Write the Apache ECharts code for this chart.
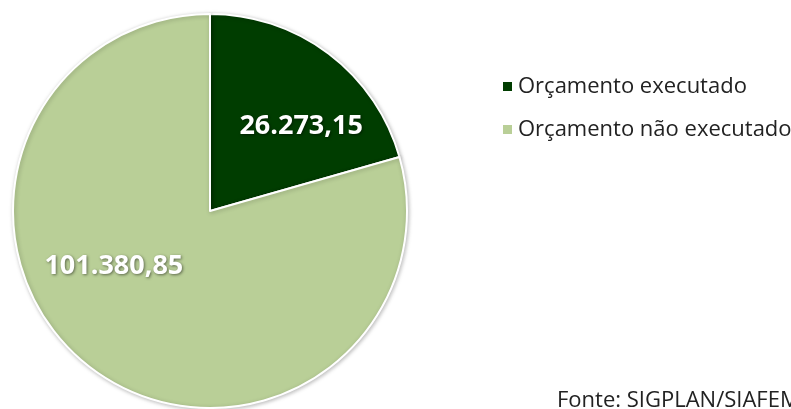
<!DOCTYPE html>
<html><head><meta charset="utf-8">
<script src="https://cdn.jsdelivr.net/npm/echarts@6/dist/echarts.min.js"></script>
<style>html,body{margin:0;padding:0;background:#fff}#c{width:791px;height:409px}</style>
</head><body><div id="c"></div>
<script>
const categories = ["Orçamento executado", "Orçamento não executado"];
const values = [26273.15, 101380.85];
const colors = ["#003d00", "#b9cf97"];
const source = "Fonte: SIGPLAN/SIAFEM";

function fmt(v){
  const parts = v.toFixed(2).split(".");
  return parts[0].replace(/\B(?=(\d{3})+(?!\d))/g, ".") + "," + parts[1];
}
const offsets = [[30,-4],[-35,-26]];
const chart = echarts.init(document.getElementById('c'));
chart.setOption({
  animation:false,
  legend:{
    orient:'vertical', left:496, top:70, itemWidth:11, itemHeight:11, itemGap:20,
    icon:'rect',
    textStyle:{fontFamily:'Open Sans', fontSize:22, lineHeight:23, color:'#222'},
    data:categories
  },
  graphic:[{type:'text', left:557, top:390, style:{text:source, font:'22px "Open Sans"', fill:'#222'}}],
  series:[{
    type:'pie', center:[210,211], radius:197, startAngle:90, clockwise:true,
    itemStyle:{borderColor:'#fff', borderWidth:2, shadowColor:'rgba(0,0,0,0.25)', shadowBlur:4, shadowOffsetX:1, shadowOffsetY:1},
    label:{show:true, position:'inside', color:'#fff', fontFamily:'Open Sans', fontWeight:'bold', fontSize:27,
      textShadowColor:'rgba(0,0,0,0.5)', textShadowBlur:3, textShadowOffsetX:1, textShadowOffsetY:1,
      formatter:p=>fmt(p.value)},
    labelLine:{show:false},
    data:categories.map((n,i)=>({name:n, value:values[i], itemStyle:{color:colors[i]}, label:{offset:offsets[i]}}))
  }]
});
</script></body></html>
